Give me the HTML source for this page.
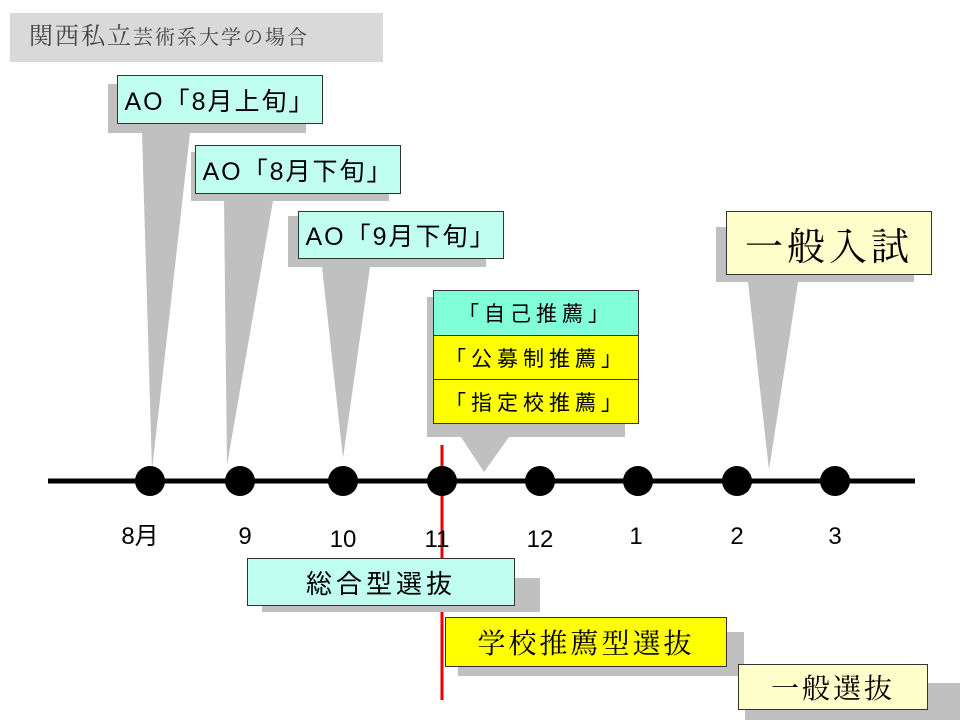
<!DOCTYPE html>
<html><head><meta charset="utf-8"><style>
body{margin:0;width:960px;height:720px;background:#fff;position:relative;overflow:hidden;font-family:"Liberation Sans","Noto Sans CJK JP",sans-serif}
.a{position:absolute;box-sizing:border-box}
.s{position:absolute;background:#c0c0c0}
.b{position:absolute;box-sizing:border-box;border:1.5px solid #333;display:flex;align-items:center;justify-content:center;white-space:nowrap;color:#000}
.c{background:#c0fff0}.y{background:#ffff00}.p{background:#ffffcc}
.m{font-family:"Liberation Serif","Noto Serif CJK JP",serif}
</style></head><body>
<svg class="a" style="left:0;top:0" width="960" height="720">
<polygon points="142,133 190,133 152,470" fill="#c0c0c0"/>
<polygon points="224,201 273,201 227,465" fill="#c0c0c0"/>
<polygon points="322,267 370,267 343,458" fill="#c0c0c0"/>
<polygon points="461,437 509,437 484,472" fill="#c0c0c0"/>
<polygon points="748,282 798,282 769,470" fill="#c0c0c0"/>
<line x1="48" y1="481" x2="915" y2="481" stroke="#000" stroke-width="5"/>
<g fill="#000">
<circle cx="150" cy="481" r="15"/><circle cx="240" cy="481" r="15"/><circle cx="343" cy="481" r="15"/><circle cx="540" cy="481" r="15"/><circle cx="638" cy="481" r="15"/><circle cx="737" cy="481" r="15"/><circle cx="835" cy="481" r="15"/>
</g>
<line x1="442" y1="445" x2="442" y2="700" stroke="#ee0000" stroke-width="3"/>
<circle cx="442" cy="481" r="15" fill="#000"/>
<g font-family="Liberation Sans,Noto Sans CJK JP,sans-serif" font-size="24" text-anchor="middle">
<text x="140" y="544">8月</text><text x="245" y="544">9</text><text x="343" y="547">10</text><text x="437" y="547">11</text><text x="540" y="547">12</text><text x="636" y="544">1</text><text x="737" y="544">2</text><text x="835" y="544">3</text>
</g>
</svg>
<div class="a" style="left:10px;top:13px;width:373px;height:49px;background:#d9d9d9;color:#444;line-height:49px;padding-left:19px;letter-spacing:2px"><span class="m" style="font-size:24px">関西私立</span><span class="m" style="font-size:20px">芸術系大学の場合</span></div>

<div class="s" style="left:108px;top:84px;width:198px;height:49px"></div>
<div class="b c" style="left:117px;top:75px;width:206px;height:49px;font-size:25px;letter-spacing:2px">AO「8月上旬」</div>
<div class="s" style="left:191px;top:152px;width:198px;height:49px"></div>
<div class="b c" style="left:195px;top:145px;width:206px;height:49px;font-size:25px;letter-spacing:2px">AO「8月下旬」</div>
<div class="s" style="left:288px;top:216px;width:198px;height:51px"></div>
<div class="b c" style="left:298px;top:211px;width:206px;height:48px;font-size:25px;letter-spacing:2px">AO「9月下旬」</div>

<div class="s" style="left:427px;top:297px;width:198px;height:140px"></div>
<div class="b c" style="left:433px;top:290px;width:206px;height:46px;font-size:21px;background:#80ffd8;letter-spacing:5px">「自己推薦」</div>
<div class="b y" style="left:433px;top:335px;width:206px;height:45px;font-size:21px;letter-spacing:5px">「公募制推薦」</div>
<div class="b y" style="left:433px;top:379px;width:206px;height:45px;font-size:21px;letter-spacing:5px">「指定校推薦」</div>

<div class="s" style="left:716px;top:227px;width:198px;height:55px"></div>
<div class="b p m" style="left:726px;top:211px;width:206px;height:64px;font-size:38px;letter-spacing:4px">一般入試</div>

<div class="s" style="left:262px;top:578px;width:278px;height:34px"></div>
<div class="b c" style="left:247px;top:558px;width:268px;height:48px;font-size:26px;letter-spacing:4px">総合型選抜</div>
<div class="s" style="left:458px;top:632px;width:286px;height:44px"></div>
<div class="b y m" style="left:445px;top:617px;width:282px;height:50px;font-size:28px;letter-spacing:3px">学校推薦型選抜</div>
<div class="s" style="left:745px;top:683px;width:215px;height:37px"></div>
<div class="b p m" style="left:738px;top:664px;width:190px;height:46px;font-size:28px;letter-spacing:3px">一般選抜</div>
</body></html>
